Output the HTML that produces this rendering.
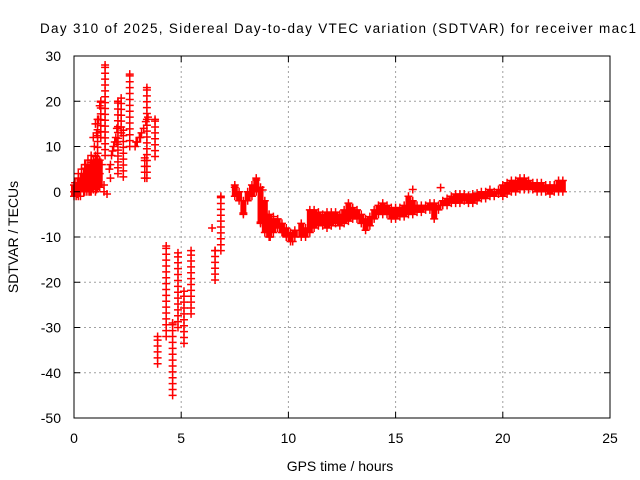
<!DOCTYPE html>
<html><head><meta charset="utf-8"><style>
html,body{margin:0;padding:0;background:#fff}
svg{display:block;font-family:"Liberation Sans",sans-serif}
</style></head><body>
<svg id="chart" width="640" height="480" viewBox="0 0 640 480">
<rect width="640" height="480" fill="#fff"/>
<text x="338" y="33" font-size="13.5" text-anchor="middle" textLength="596">Day 310 of 2025, Sidereal Day-to-day VTEC variation (SDTVAR) for receiver mac1</text>
<g id="grid"></g>
<g id="marks"></g>
<rect x="74" y="56" width="536" height="362" fill="none" stroke="#000" stroke-width="1"/>
<g id="ticks"></g>
<text x="340" y="471" font-size="14" text-anchor="middle">GPS time / hours</text>
<text x="0" y="0" font-size="14" text-anchor="middle" transform="translate(18,237) rotate(-90)">SDTVAR / TECUs</text>
</svg>
<script>
const xTicks=[0,5,10,15,20,25];
const yTicks=[30,20,10,0,-10,-20,-30,-40,-50];
// individual points (hours, TECU)
const ptT=[0,0.05,0.1,0.15,0.2,0.25,0.3,0.35,0.4,0.45,0.5,0.55,0.6,0.65,0.7,0.75,0.8,0.85,0.9,0.95,1.0,1.05,1.1,1.15,1.2,1.25,0.9,1.0,0.5,0.7,1.1,1.2,1.3,0.3,1.4,1.54,1.4,
1.65,1.7,1.75,1.8,1.85,1.9,1.95,2.0,1.7,2.0,
2.85,2.95,3.05,3.15,3.25,3.35,3.45,2.9,3.1,
6.44,7.5,7.9,8.2,8.5,8.8,9.0,9.15,9.5,9.75,10.2,8.7,9.3,15.8,17.1];
const ptV=[0,2,-1,1,3,0,2,5,1,4,2,6,3,7,1,5,8,3,6,10,5,13,7,16,19,20,12,15,0,0,1,4,6,-1,0,-0.5,1.5,
5,6,8,9,10,11,12,11,3,14,
10,11,12,13,14,15.5,16.5,11,12,
-8,1,-4.7,-1,2.6,0.4,-5.5,-10,-7,-9,-11,-6.7,-5.5,0.5,0.9];
// vertical columns of samples (hours, low, high)
const colT=[0.2,0.5,0.8,1.0,1.1,1.25,1.45,2.05,2.2,2.3,2.6,3.3,3.4,3.78,3.9,4.3,4.6,4.85,5.13,5.46,6.58,6.85];
const colLo=[-1,0,0,0,2,12,8,4,13,3.3,10,3,3,7.8,-38,-32,-45,-30,-33.5,-27,-19.5,-13];
const colHi=[4,6,7,8,16,20,28,20,20.7,13.6,26,7.5,23,16,-32,-12,-29,-13.5,-22,-13,-13,-1];
// dense band (hours, low, high)
const bandT=[0.0,0.15,0.3,0.45,0.6,0.75,0.9,1.05,1.2,
7.5,7.7,7.9,8.1,8.3,8.5,8.7,8.9,9.1,9.3,9.5,9.7,9.9,10.1,10.3,
10.6,10.8,11.0,11.2,11.4,11.6,11.8,12.0,12.2,12.4,12.6,12.8,13.0,13.2,13.4,13.6,13.8,14.0,14.2,14.4,14.6,14.8,15.0,15.2,15.4,15.6,15.8,16.0,16.2,16.4,16.6,16.8,17.0,17.2,17.4,17.6,17.8,18.0,18.2,18.4,18.6,18.8,19.0,19.2,19.4,19.6,19.8,20.0,20.2,20.4,20.6,20.8,21.0,21.2,21.4,21.6,21.8,22.0,22.2,22.4,22.6,22.8];
const bandLo=[-1,-0.5,0,0,0,0,0.5,0.5,1,
-1,-2,-5,-2,-1,0,-7,-9,-10,-9,-8,-9,-10,-11,-10,
-10,-10,-9,-8,-7.5,-7.5,-8,-7.5,-7,-7.5,-7,-6.5,-6,-6,-7,-8.5,-7.5,-6,-5,-5,-5,-6,-6,-5.5,-5.5,-5,-5,-4.5,-4.5,-4,-4,-6,-4,-3,-3,-2.5,-2.5,-2.5,-2,-2.5,-2.5,-2,-1.5,-1.5,-1,-1,-0.5,-1,-0.5,0,0,0.5,0.5,0.5,0.5,0,0,0,-0.5,0,0,0];
const bandHi=[1.5,2,3,4,5,6,7,7,7,
1.5,0,-2,0,1.5,3,1,-2,-5,-6,-6,-7,-8,-9,-8.5,
-7,-8,-4,-4,-4.5,-5,-4.5,-4.5,-4.5,-5,-4,-2.5,-3.5,-4,-5,-6,-5.5,-4,-3,-2.5,-3,-3.5,-3.5,-3.5,-3,-1,-2,-3,-3,-3,-2.5,-2.5,-3,-2,-1.5,-1,-0.5,-0.5,-0.5,-0.8,-0.5,-0.3,0,0,0.5,0,0.5,1.5,2,2.5,2.5,3,3,2.5,2,2,2,1.5,1.5,1.5,2.5,2.5];

const NS='http://www.w3.org/2000/svg';
const X0=74,X1=610,Y0=56,Y1=418;
const sx=t=>X0+(t-0)/25*(X1-X0);
const sy=v=>Y0+(30-v)/80*(Y1-Y0);
function mk(tag,attrs,parent){const e=document.createElementNS(NS,tag);for(const k in attrs)e.setAttribute(k,attrs[k]);parent.appendChild(e);return e;}
const grid=document.getElementById('grid'),ticks=document.getElementById('ticks'),marks=document.getElementById('marks');
xTicks.forEach(t=>{const x=sx(t);
 if(t>0&&t<25){const g=mk('line',{x1:x,x2:x,y1:Y0,y2:Y1,stroke:'#a0a0a0','stroke-dasharray':'2,3'},grid);
 
 }
 const a=mk('line',{x1:x,x2:x,y1:Y1,y2:Y1-6,stroke:'#000'},ticks);
 
 
 const b=mk('line',{x1:x,x2:x,y1:Y0,y2:Y0+6,stroke:'#000'},ticks);
 
 
 const l=mk('text',{x:x,y:443,'font-size':14,'text-anchor':'middle'},ticks);l.textContent=t;
 
 
});
yTicks.forEach(v=>{const y=sy(v);
 if(v<30&&v>-50){const g=mk('line',{x1:X0,x2:X1,y1:y,y2:y,stroke:'#a0a0a0','stroke-dasharray':'2,3'},grid);
 
 }
 const a=mk('line',{x1:X0,x2:X0+6,y1:y,y2:y,stroke:'#000'},ticks);
 
 
 const b=mk('line',{x1:X1,x2:X1-6,y1:y,y2:y,stroke:'#000'},ticks);
 
 
 const l=mk('text',{x:61,y:y+5,'font-size':14,'text-anchor':'end'},ticks);l.textContent=v;
 
 
});
function plus(t,v){const x=sx(t),y=sy(v);
 const p=mk('path',{d:`M${x-4},${y}H${x+4}M${x},${y-4}V${y+4}`,stroke:'#ff0000','stroke-width':1.5,fill:'none'},marks);
 
 }
bandT.forEach((t,i)=>{
 const s=mk('line',{x1:sx(t),x2:sx(t),y1:sy(bandHi[i]),y2:sy(bandLo[i]),stroke:'#ff0000','stroke-width':6},marks);
 
 
 plus(t,bandHi[i]);plus(t,bandLo[i]);
});
colT.forEach((t,i)=>{for(let v=colLo[i];v<=colHi[i]+0.01;v+=1.3)plus(t,v);plus(t,colHi[i]);});
ptT.forEach((t,i)=>plus(t,ptV[i]));
</script>
</body></html>
